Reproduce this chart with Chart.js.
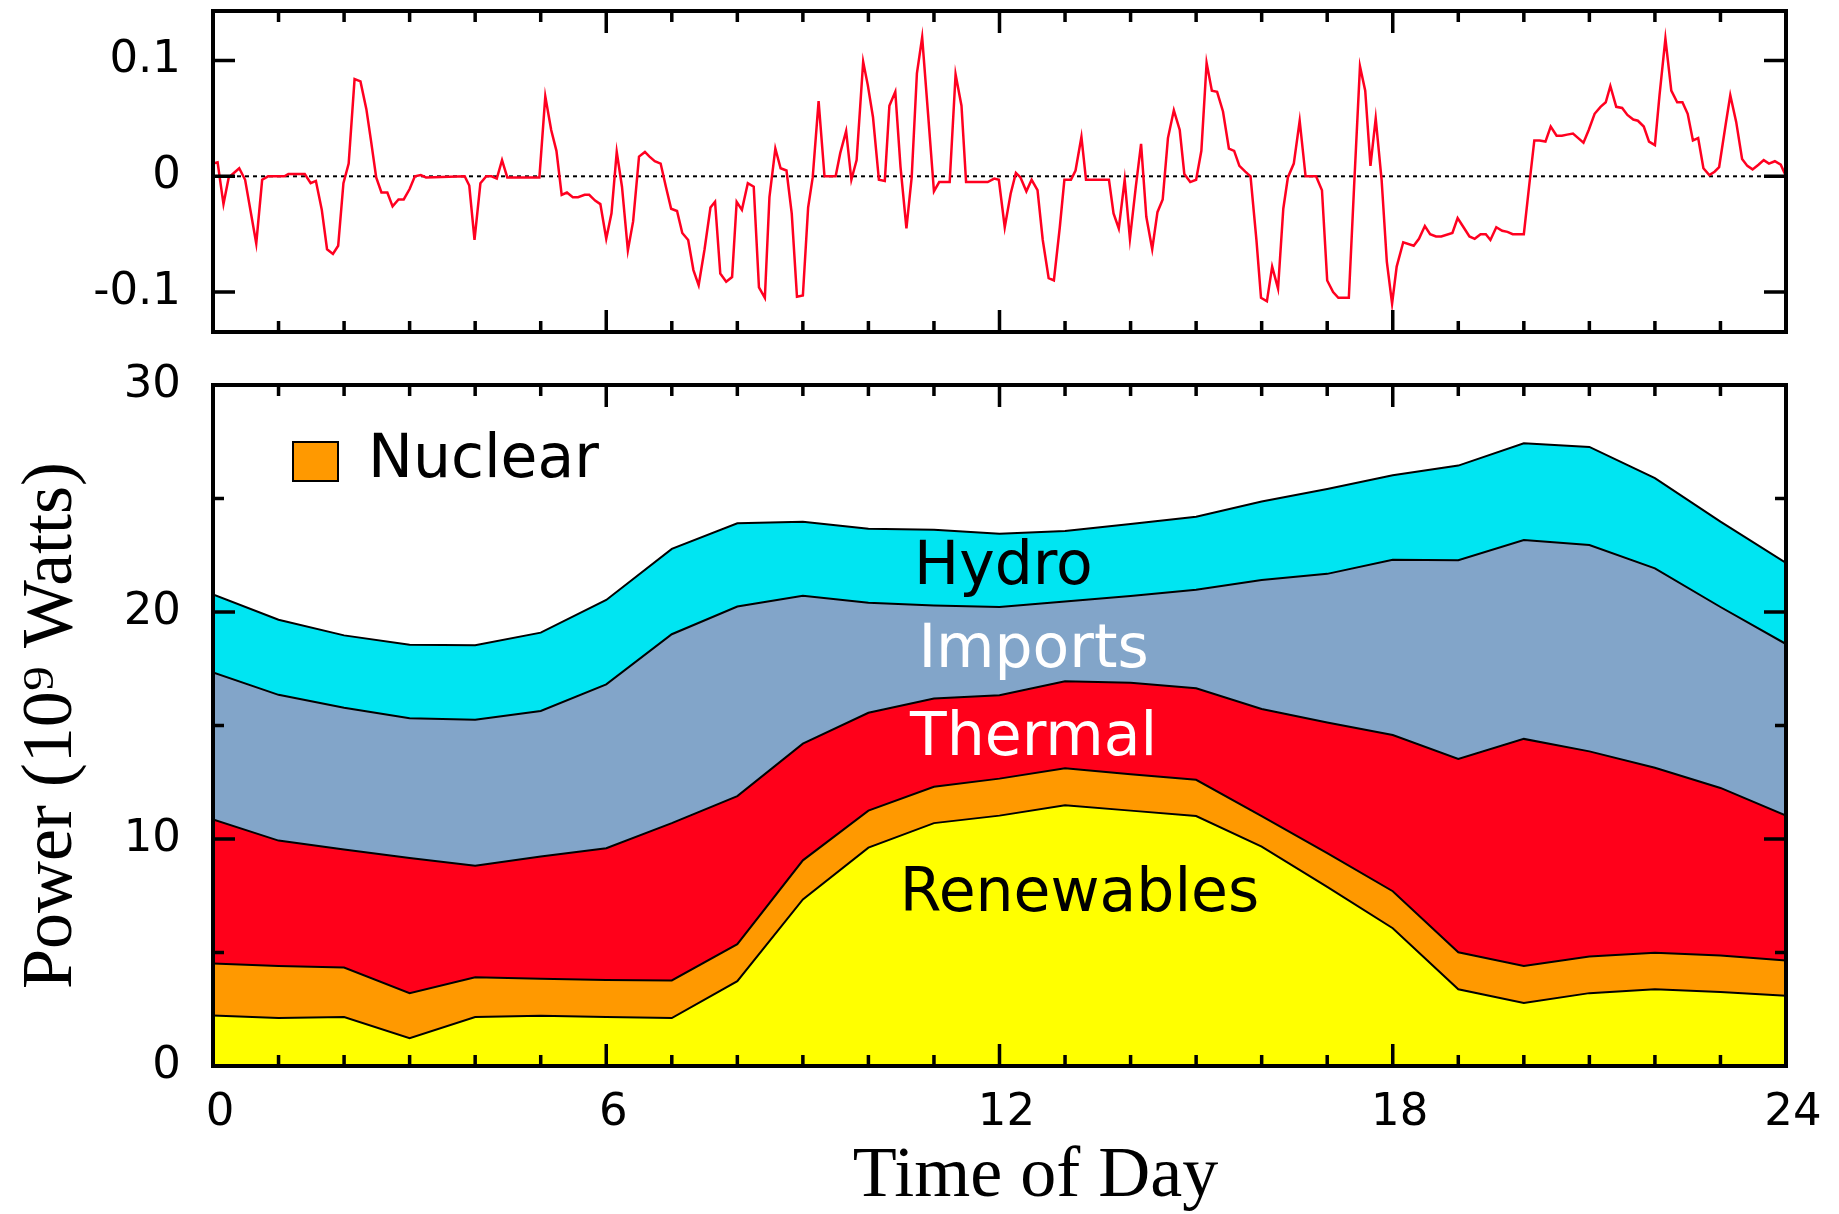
<!DOCTYPE html>
<html>
<head>
<meta charset="utf-8">
<script src="https://cdn.jsdelivr.net/npm/chart.js@4.4.1/dist/chart.umd.min.js"></script>
<style>
  html, body { margin: 0; padding: 0; background: #ffffff; width: 1839px; height: 1214px; overflow: hidden; }
  canvas { position: absolute; left: 0; }
  #deviationChart { top: -60px; }
  #powerChart { top: 300px; }
</style>
</head>
<body>
<canvas id="deviationChart" width="1900" height="452"></canvas>
<canvas id="powerChart" width="1900" height="914"></canvas>
<script>
// ---------------- data ----------------
const hours = [0,1,2,3,4,5,6,7,8,9,10,11,12,13,14,15,16,17,18,19,20,21,22,23,24];
const seriesNames = ['Renewables', 'Nuclear', 'Thermal', 'Imports', 'Hydro'];
const renewables = [2.23,2.11,2.16,1.22,2.16,2.21,2.16,2.11,3.74,7.34,9.62,10.70,11.03,11.49,11.25,11.01,9.66,7.89,6.07,3.38,2.78,3.21,3.38,3.26,3.09];
const nuclear    = [2.28,2.30,2.18,1.99,1.75,1.63,1.63,1.66,1.63,1.72,1.63,1.60,1.63,1.63,1.60,1.60,1.35,1.49,1.63,1.63,1.63,1.61,1.61,1.61,1.56];
const thermal    = [6.35,5.52,5.20,5.95,4.91,5.39,5.80,6.93,6.52,5.14,4.31,3.89,3.67,3.83,4.03,4.03,4.72,5.75,6.88,8.52,10.00,9.04,8.15,7.38,6.38];
const imports    = [6.48,6.42,6.24,6.16,6.43,6.41,7.22,8.32,8.35,6.52,4.85,4.10,3.89,3.51,3.82,4.34,5.68,6.55,7.72,8.75,8.76,9.09,8.78,7.97,7.56];
const hydro      = [3.43,3.31,3.19,3.24,3.29,3.45,3.72,3.76,3.67,3.26,3.26,3.33,3.23,3.11,3.18,3.22,3.46,3.74,3.72,4.17,4.26,4.32,3.98,3.76,3.57];

const deviationHours = [
  0.00,0.07,0.16,0.24,0.40,0.49,0.66,0.75,0.84,1.09,1.15,
  1.40,1.49,1.57,1.66,1.74,1.83,1.91,1.99,2.07,2.16,2.25,2.34,2.41,2.49,
  2.57,2.66,2.74,2.83,2.91,3.00,3.08,3.17,3.25,3.84,3.91,3.99,
  4.08,4.17,4.25,4.33,4.41,4.49,4.98,5.07,5.16,5.24,5.32,5.40,
  5.49,5.57,5.67,5.74,5.83,5.91,6.00,6.08,6.16,6.24,6.33,6.41,
  6.50,6.59,6.66,6.74,6.83,6.91,6.99,7.08,7.16,7.25,7.33,7.41,
  7.50,7.59,7.66,7.74,7.83,7.92,7.99,8.07,8.16,8.25,8.33,8.42,
  8.49,8.58,8.66,8.75,8.83,8.91,9.00,9.08,9.15,9.24,9.33,9.50,
  9.57,9.66,9.74,9.82,9.92,9.99,10.07,10.16,10.25,10.32,10.41,10.49,
  10.58,10.66,10.74,10.82,10.91,11.00,11.08,11.24,11.33,11.42,11.49,11.82,
  11.92,11.99,12.08,12.17,12.25,12.32,12.41,12.49,12.58,12.66,12.75,12.83,
  12.92,12.99,13.09,13.16,13.25,13.32,13.67,13.74,13.82,13.91,13.99,14.08,
  14.16,14.24,14.33,14.41,14.49,14.57,14.66,14.75,14.82,14.91,15.00,15.08,
  15.16,15.24,15.32,15.41,15.50,15.58,15.66,15.75,15.83,15.92,15.99,16.08,
  16.16,16.25,16.33,16.40,16.49,16.58,16.67,16.83,16.92,17.00,17.09,17.17,
  17.33,17.41,17.50,17.58,17.66,17.74,17.83,17.91,17.99,18.06,18.16,18.32,
  18.40,18.49,18.57,18.66,18.74,18.91,18.99,19.08,19.17,19.25,19.34,19.42,
  19.49,19.58,19.67,19.75,19.83,20.00,20.08,20.16,20.24,20.33,20.41,20.50,
  20.58,20.66,20.75,20.83,20.91,20.99,21.08,21.17,21.25,21.32,21.41,21.50,
  21.58,21.67,21.74,21.83,21.91,22.00,22.07,22.16,22.25,22.34,22.42,22.50,
  22.58,22.66,22.74,22.83,22.91,22.98,23.08,23.15,23.24,23.33,23.41,23.49,
  23.58,23.66,23.74,23.83,23.92,24.00
];
const deviationValues = [
  0.011,0.012,-0.024,-0.001,0.007,-0.003,-0.058,-0.003,0,0,0.002,
  0.002,-0.006,-0.004,-0.029,-0.063,-0.067,-0.060,-0.006,0.011,0.084,0.082,0.058,0.031,-0.001,
  -0.014,-0.014,-0.026,-0.020,-0.020,-0.011,0,0.001,-0.001,0,-0.008,-0.055,
  -0.006,0,0,-0.002,0.014,-0.001,-0.001,0.069,0.040,0.022,-0.016,-0.014,
  -0.018,-0.018,-0.016,-0.016,-0.021,-0.024,-0.054,-0.032,0.021,-0.009,-0.064,-0.039,
  0.017,0.021,0.017,0.013,0.011,-0.009,-0.028,-0.030,-0.049,-0.055,-0.081,-0.094,
  -0.063,-0.027,-0.022,-0.084,-0.091,-0.087,-0.022,-0.029,-0.006,-0.009,-0.096,-0.105,
  -0.018,0.024,0.007,0.005,-0.032,-0.104,-0.103,-0.027,-0.001,0.065,0,0,
  0.020,0.039,-0.003,0.014,0.099,0.079,0.051,-0.003,-0.004,0.061,0.073,0.008,
  -0.045,-0.001,0.089,0.120,0.054,-0.013,-0.005,-0.005,0.088,0.061,-0.005,-0.005,
  -0.002,-0.003,-0.044,-0.015,0.003,-0.001,-0.013,-0.003,-0.012,-0.055,-0.088,-0.090,
  -0.044,-0.003,-0.003,0.005,0.034,-0.003,-0.003,-0.032,-0.045,-0.003,-0.054,-0.009,
  0.028,-0.035,-0.063,-0.031,-0.020,0.033,0.057,0.040,0.002,-0.005,-0.003,0.022,
  0.098,0.074,0.073,0.056,0.024,0.022,0.009,0.004,0,-0.055,-0.105,-0.108,
  -0.078,-0.097,-0.028,-0.001,0.011,0.048,0,0,-0.012,-0.090,-0.100,-0.105,
  -0.105,-0.009,0.095,0.074,0.009,0.050,-0.003,-0.074,-0.110,-0.078,-0.057,-0.060,
  -0.054,-0.043,-0.050,-0.052,-0.052,-0.049,-0.036,-0.044,-0.052,-0.054,-0.050,-0.050,
  -0.055,-0.044,-0.047,-0.048,-0.050,-0.050,-0.009,0.031,0.031,0.030,0.043,0.035,
  0.035,0.036,0.037,0.033,0.029,0.040,0.054,0.060,0.064,0.078,0.060,0.059,
  0.053,0.049,0.048,0.043,0.030,0.027,0.070,0.119,0.074,0.064,0.064,0.054,
  0.031,0.033,0.007,0.001,0.004,0.008,0.045,0.070,0.047,0.015,0.009,0.006,
  0.010,0.014,0.011,0.013,0.010,0
];

const xTickValues = [0, 6, 12, 18, 24];
const xTickLabels = ['0', '6', '12', '18', '24'];
const powerTickValues = [0, 10, 20, 30];
const powerTickLabels = ['0', '10', '20', '30'];
const powerMinorTicks = [5, 15, 25];
const deviationTickValues = [-0.1, 0, 0.1];
const deviationTickLabels = ['-0.1', '0', '0.1'];

// ---------------- styles ----------------
const seriesValues = [renewables, nuclear, thermal, imports, hydro];
const seriesColors = ['#ffff00', '#ff9900', '#ff001a', '#82a5c9', '#00e5f2'];
const areaLabels = [
  { text: 'Hydro',      hour: 12.06, power: 21.23, color: '#000000' },
  { text: 'Imports',    hour: 12.52, power: 17.59, color: '#ffffff' },
  { text: 'Thermal',    hour: 12.52, power: 13.70, color: '#ffffff' },
  { text: 'Renewables', hour: 13.22, power: 6.83,  color: '#000000' }
];
const tickFont = { family: 'DejaVu Sans', size: 45 };
const titleFont = { family: 'Liberation Serif', size: 72, lineHeight: 1 };

Chart.defaults.color = '#000000';
Chart.defaults.font.family = 'DejaVu Sans';

function frameAndTicks(cfg) {
  return {
    id: 'frameAndTicks',
    afterDatasetsDraw(chart) {
      const { ctx, chartArea: a } = chart;
      const xs = chart.scales.x, ys = chart.scales.y;
      ctx.save();
      ctx.strokeStyle = '#000000';
      ctx.lineWidth = 3.5;
      ctx.setLineDash([]);
      ctx.beginPath();
      const vt = (v, len) => {
        const p = xs.getPixelForValue(v);
        ctx.moveTo(p, a.bottom); ctx.lineTo(p, a.bottom - len);
        ctx.moveTo(p, a.top); ctx.lineTo(p, a.top + len);
      };
      const ht = (v, len) => {
        const p = ys.getPixelForValue(v);
        ctx.moveTo(a.left, p); ctx.lineTo(a.left + len, p);
        ctx.moveTo(a.right, p); ctx.lineTo(a.right - len, p);
      };
      cfg.xMinor.forEach(v => vt(v, 11));
      cfg.xMajor.forEach(v => vt(v, 22));
      cfg.yMinor.forEach(v => ht(v, 11));
      cfg.yMajor.forEach(v => ht(v, 22));
      ctx.stroke();
      ctx.lineWidth = 4;
      ctx.strokeRect(a.left, a.top, a.right - a.left, a.bottom - a.top);
      ctx.restore();
    }
  };
}

const zeroLine = {
  id: 'zeroLine',
  beforeDatasetsDraw(chart) {
    const { ctx, chartArea: a } = chart;
    const p = chart.scales.y.getPixelForValue(0);
    ctx.save();
    ctx.strokeStyle = '#000000';
    ctx.lineWidth = 2;
    ctx.setLineDash([4, 4]);
    ctx.beginPath();
    ctx.moveTo(a.left, p);
    ctx.lineTo(a.right, p);
    ctx.stroke();
    ctx.restore();
  }
};

const areaLabelPlugin = {
  id: 'areaLabels',
  afterDatasetsDraw(chart) {
    const { ctx } = chart;
    const xs = chart.scales.x, ys = chart.scales.y;
    ctx.save();
    ctx.font = '60px "DejaVu Sans"';
    ctx.textAlign = 'center';
    ctx.textBaseline = 'alphabetic';
    areaLabels.forEach(l => {
      ctx.fillStyle = l.color;
      ctx.fillText(l.text, xs.getPixelForValue(l.hour), ys.getPixelForValue(l.power));
    });
    ctx.restore();
  }
};

const legendPlace = {
  id: 'legendPlace',
  afterLayout(chart) {
    const l = chart.legend;
    if (!l) return;
    const a = chart.chartArea;
    const w = l.width, h = l.height;
    l.left = a.left + 33.5;
    l.top = a.top;
    l.right = l.left + w;
    l.bottom = l.top + h;
  }
};

// ---------------- top chart: deviation ----------------
new Chart(document.getElementById('deviationChart'), {
  type: 'line',
  data: {
    datasets: [{
      label: 'Deviation',
      data: deviationHours.map((h, i) => ({ x: h, y: deviationValues[i] })),
      borderColor: 'rgb(255,0,32)',
      borderWidth: 2.5,
      pointRadius: 0,
      fill: false,
      tension: 0
    }]
  },
  options: {
    responsive: false,
    animation: false,
    events: [],
    layout: { padding: { left: 0, top: 71, right: 114, bottom: 0 } },
    scales: {
      x: {
        type: 'linear', min: 0, max: 24,
        grid: { display: false, drawTicks: false },
        border: { display: false },
        ticks: { display: false },
        afterFit: s => { s.height = 60; }
      },
      y: {
        type: 'linear', min: -0.1345, max: 0.1428,
        grid: { display: false, drawTicks: false },
        border: { display: false },
        afterBuildTicks: s => { s.ticks = deviationTickValues.map(v => ({ value: v })); },
        ticks: {
          font: tickFont, color: '#000000', padding: 32,
          callback: v => deviationTickLabels[deviationTickValues.indexOf(v)]
        },
        afterFit: s => { s.width = 213; }
      }
    },
    plugins: { legend: { display: false }, tooltip: { enabled: false } }
  },
  plugins: [zeroLine, frameAndTicks({ xMinor: hours, xMajor: xTickValues, yMinor: [], yMajor: deviationTickValues })]
});

// ---------------- bottom chart: power stack ----------------
new Chart(document.getElementById('powerChart'), {
  type: 'line',
  data: {
    datasets: seriesNames.map((name, i) => ({
      label: name,
      data: hours.map((h, j) => ({ x: h, y: seriesValues[i][j] })),
      backgroundColor: seriesColors[i],
      borderColor: '#000000',
      borderWidth: 2,
      fill: i === 0 ? 'origin' : '-1',
      pointRadius: 0,
      tension: 0
    }))
  },
  options: {
    responsive: false,
    animation: false,
    events: [],
    layout: { padding: { left: 0, top: 85, right: 114, bottom: 0 } },
    scales: {
      x: {
        type: 'linear', min: 0, max: 24,
        grid: { display: false, drawTicks: false },
        border: { display: false },
        afterBuildTicks: s => { s.ticks = xTickValues.map(v => ({ value: v })); },
        ticks: {
          font: tickFont, color: '#000000', padding: 20, labelOffset: 7,
          maxRotation: 0, autoSkip: false,
          callback: v => xTickLabels[xTickValues.indexOf(v)]
        },
        title: { display: true, text: '\u00a0\u00a0\u00a0\u00a0Time of Day', font: titleFont, color: '#000000', padding: { top: 0, bottom: 1 } },
        afterFit: s => { s.height = 148; }
      },
      y: {
        type: 'linear', stacked: true, min: 0, max: 30,
        grid: { display: false, drawTicks: false },
        border: { display: false },
        afterBuildTicks: s => { s.ticks = powerTickValues.map(v => ({ value: v })); },
        ticks: {
          font: tickFont, color: '#000000', padding: 32,
          callback: v => powerTickLabels[powerTickValues.indexOf(v)]
        },
        title: { display: true, text: 'Power (10\u2079 Watts)', font: titleFont, color: '#000000', padding: { top: 16, bottom: 0 } },
        afterFit: s => { s.width = 213; }
      }
    },
    plugins: {
      tooltip: { enabled: false },
      legend: {
        display: true,
        position: 'chartArea',
        align: 'start',
        labels: {
          filter: item => item.text === 'Nuclear',
          boxWidth: 45, boxHeight: 39, padding: 46.5,
          font: { family: 'DejaVu Sans', size: 60 },
          color: '#000000'
        }
      }
    }
  },
  plugins: [legendPlace, areaLabelPlugin, frameAndTicks({ xMinor: hours, xMajor: xTickValues, yMinor: powerMinorTicks, yMajor: powerTickValues })]
});
</script>
</body>
</html>
